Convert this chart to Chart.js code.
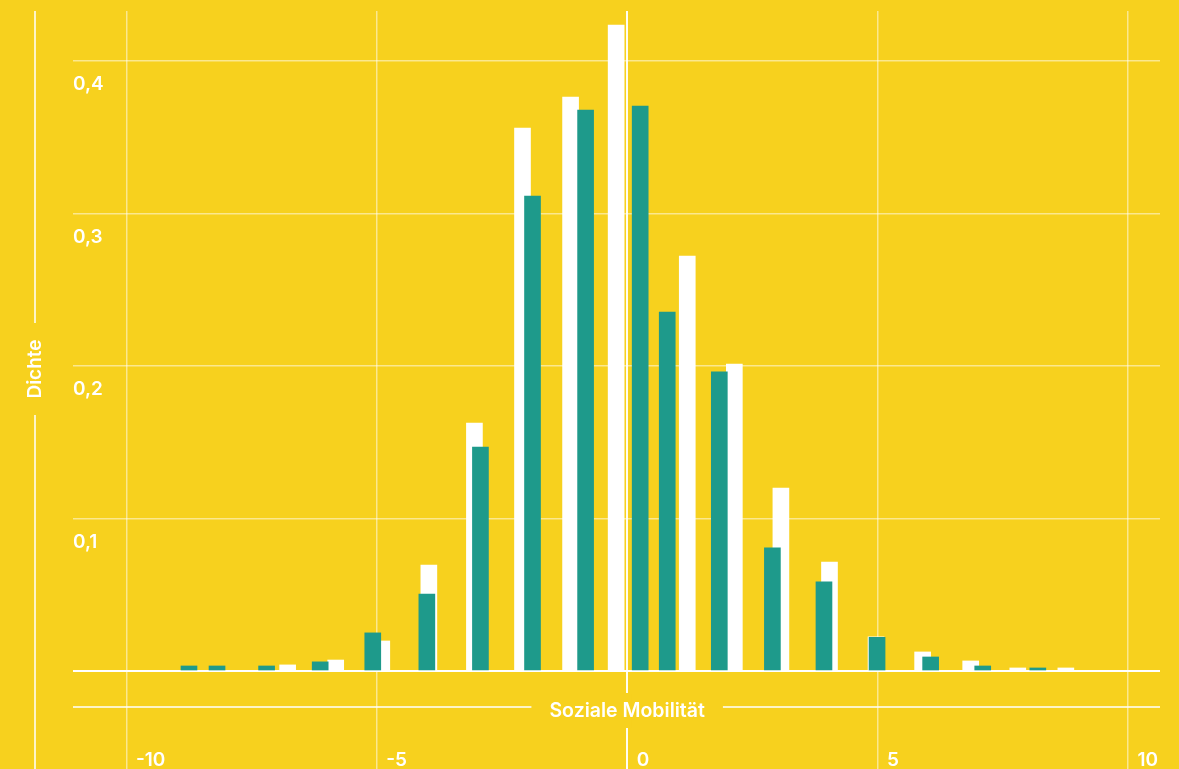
<!DOCTYPE html>
<html>
<head>
<meta charset="utf-8">
<script src="https://cdn.jsdelivr.net/npm/chart.js@4.4.1/dist/chart.umd.min.js"></script>
<style>
  html, body { margin: 0; padding: 0; background: #F7D11E; }
  #wrap { width: 1179px; height: 769px; }
</style>
</head>
<body>
<div id="wrap"><canvas id="chart_area" width="1179" height="769"></canvas></div>
<script>
// Werte
const whiteX = [-6.78, -5.82, -4.9, -3.96, -3.05, -2.09, -1.13, -0.22, 1.2, 2.14, 3.07, 4.04, 4.97, 5.9, 6.86, 7.8, 8.76];
const whiteY = [0.004, 0.0072, 0.0197, 0.0695, 0.1626, 0.356, 0.3764, 0.4236, 0.2721, 0.2013, 0.12, 0.0715, 0.0224, 0.0125, 0.0066, 0.002, 0.002];
const tealX = [-8.75, -8.19, -7.2, -6.13, -5.08, -4.0, -2.93, -1.89, -0.83, 0.26, 0.8, 1.84, 2.9, 3.93, 4.99, 6.06, 7.1, 8.2];
const tealY = [0.0033, 0.0033, 0.0033, 0.006, 0.025, 0.0505, 0.1469, 0.3115, 0.3679, 0.3705, 0.2354, 0.1961, 0.0807, 0.0584, 0.0221, 0.0092, 0.0033, 0.002];
const xTicks = [-10, -5, 0, 5, 10];
const xTickLabels = ["-10", "-5", "0", "5", "10"];
const yTicks = [0, 0.1, 0.2, 0.3, 0.4];
const yTickLabels = ["", "0,1", "0,2", "0,3", "0,4"];
const xTitle = "Soziale Mobilität";
const yTitle = "Dichte";

const bg = "#F7D11E";
const teal = "#1E9A8B";
const fontFam = "Inter, 'Liberation Sans', sans-serif";

const toPoints = (xs, ys) => xs.map((x, i) => ({x: x, y: ys[i]}));

const decor = {
  id: 'decor',
  beforeDraw(chart) {
    const c = chart.ctx;
    c.save();
    c.fillStyle = bg;
    c.fillRect(0, 0, chart.width, chart.height);
    c.restore();
  },
  afterDraw(chart) {
    const c = chart.ctx;
    const xs = chart.scales.x, ys = chart.scales.y;
    const area = chart.chartArea;
    c.save();
    c.fillStyle = "#fff";
    c.font = "600 19px " + fontFam;
    c.textBaseline = "alphabetic";
    c.textAlign = "left";
    yTicks.forEach((v, i) => {
      if (!yTickLabels[i]) return;
      c.fillText(yTickLabels[i], area.left, ys.getPixelForValue(v) + 29);
    });
    xTicks.forEach((v, i) => {
      c.fillText(xTickLabels[i], xs.getPixelForValue(v) + 9.5, 766);
    });

    // x axis title with line
    const zeroY = ys.getPixelForValue(0);
    const lineY = zeroY + 36;
    const cx = xs.getPixelForValue(0);
    c.font = "600 19.5px " + fontFam;
    const tw = c.measureText(xTitle).width;
    c.fillStyle = bg;
    c.fillRect(cx - 4, lineY - 14, 8, 35);
    c.strokeStyle = "#fff";
    c.lineWidth = 1.5;
    c.beginPath();
    c.moveTo(area.left, lineY);
    c.lineTo(cx - tw / 2 - 18, lineY);
    c.moveTo(cx + tw / 2 + 18, lineY);
    c.lineTo(area.right, lineY);
    c.stroke();
    c.fillStyle = "#fff";
    c.textAlign = "center";
    c.fillText(xTitle, cx, lineY + 10);

    // y axis title with line
    c.beginPath();
    c.moveTo(35, area.top);
    c.lineTo(35, 323);
    c.moveTo(35, 415);
    c.lineTo(35, chart.height);
    c.stroke();
    c.translate(35, 369);
    c.rotate(-Math.PI / 2);
    c.font = "600 19px " + fontFam;
    c.textAlign = "center";
    c.textBaseline = "middle";
    c.fillText(yTitle, 0, 0);
    c.restore();
  }
};

const ctx = document.getElementById('chart_area').getContext('2d');
const chart = new Chart(ctx, {
  type: 'bar',
  data: {
    datasets: [{
      label: "teal",
      data: toPoints(tealX, tealY),
      backgroundColor: teal,
      borderWidth: 0,
      order: 1
    }, {
      label: "white",
      data: toPoints(whiteX, whiteY),
      backgroundColor: "#ffffff",
      borderWidth: 0,
      order: 2
    }]
  },
  options: {
    responsive: false,
    animation: false,
    grouped: false,
    barThickness: 16,
    layout: { padding: { left: 73, right: 19, top: 11, bottom: 0 } },
    plugins: { legend: { display: false }, tooltip: { enabled: false } },
    scales: {
      x: {
        type: 'linear',
        min: -11.066,
        max: 10.64,
        offset: false,
        afterBuildTicks: (s) => { s.ticks = xTicks.map(v => ({value: v})); },
        ticks: { display: false },
        border: { display: false },
        grid: {
          offset: false,
          drawTicks: false,
          color: (c) => c.tick && c.tick.value === 0 ? "rgba(255,255,255,0.95)" : "rgba(255,255,255,0.5)",
          lineWidth: (c) => c.tick && c.tick.value === 0 ? 2 : 1.5
        }
      },
      y: {
        type: 'linear',
        min: -0.06426,
        max: 0.43279,
        afterBuildTicks: (s) => { s.ticks = yTicks.map(v => ({value: v})); },
        ticks: { display: false },
        border: { display: false },
        grid: {
          drawTicks: false,
          color: (c) => c.tick && c.tick.value === 0 ? "#ffffff" : "rgba(255,255,255,0.5)",
          lineWidth: (c) => c.tick && c.tick.value === 0 ? 2 : 1.5
        }
      }
    }
  },
  plugins: [decor]
});
</script>
</body>
</html>
